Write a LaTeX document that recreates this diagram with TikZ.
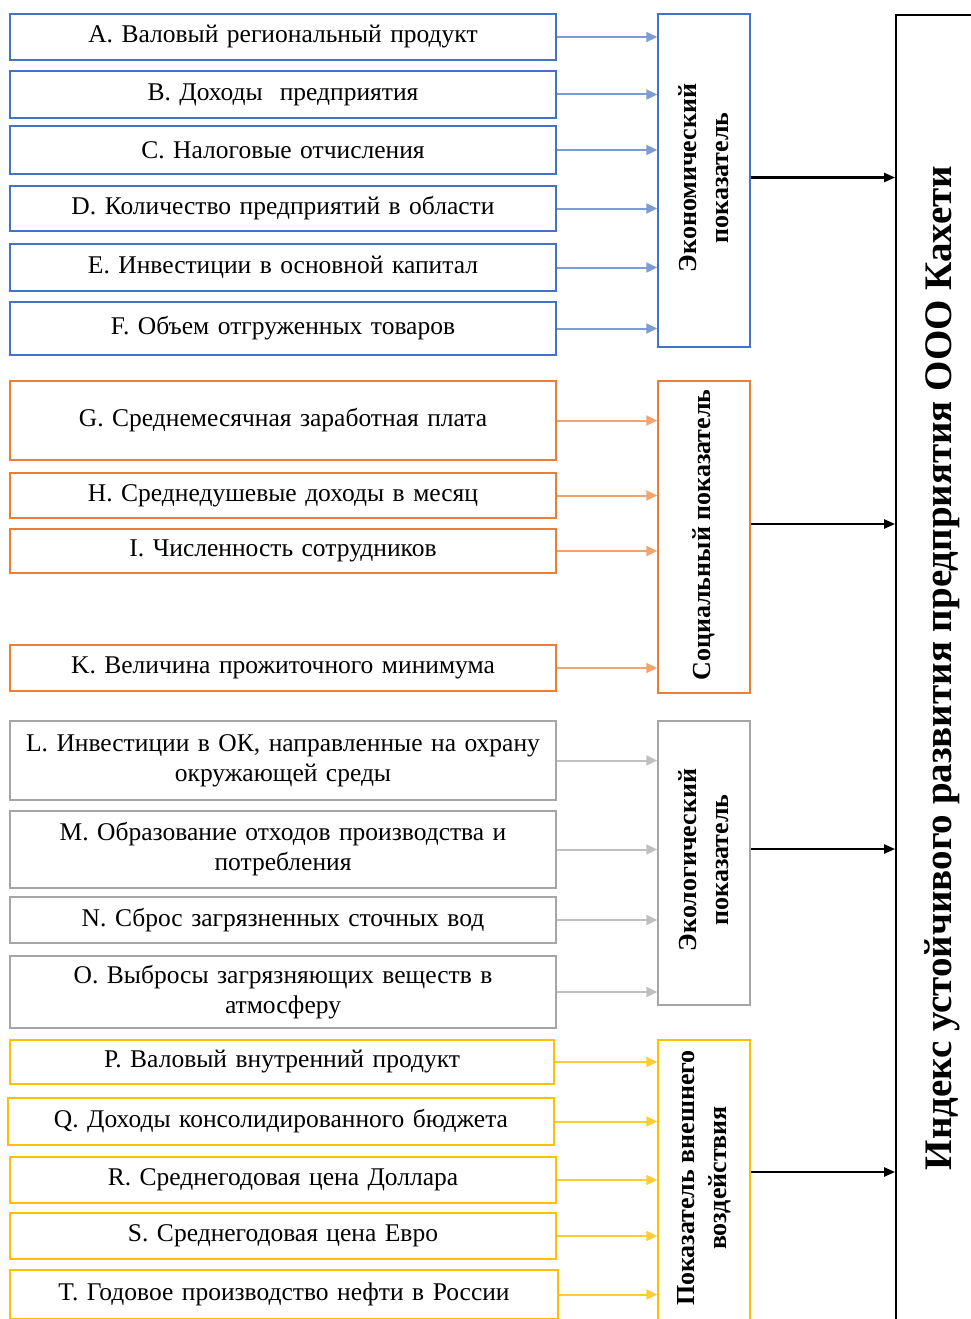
\documentclass[tikz,border=0pt]{standalone}
\usepackage{fontspec}
\setmainfont{Liberation Serif}
\usepackage{tikz}
\usetikzlibrary{arrows.meta,positioning}

\definecolor{econblue}{HTML}{4472C4}
\definecolor{socorange}{HTML}{ED7D31}
\definecolor{ecolgray}{HTML}{A5A5A5}
\definecolor{impyellow}{HTML}{FFC000}

\begin{document}
\begin{tikzpicture}[
  x=1pt,y=-1pt,
  font=\fontsize{25.5}{30}\selectfont,
  itembox/.style={draw=#1,line width=1.4pt,minimum width=546pt,text width=536pt,align=center,inner sep=2pt},
  groupbox/.style={draw=#1,line width=1.4pt,minimum width=92pt},
  grouplabel/.style={rotate=90,font=\fontsize{26}{32}\selectfont\bfseries,align=center},
  feed/.style={-{Triangle[length=11pt,width=10pt]},draw=#1,line width=2pt},
  total/.style={-{Triangle[length=11pt,width=9pt]},line width=2.4pt}
]
% frame of the page; the index box runs off the right and bottom edges
\useasboundingbox (0,0) rectangle (971,1319);
\clip (0,0) rectangle (971,1319);

% x centre of the indicator column
\def\xl{283}

% economic indicators
\node[itembox=econblue,minimum height=46pt] (a) at (\xl,37)    {A. Валовый региональный продукт};
\node[itembox=econblue,minimum height=47pt] (b) at (\xl,94.5)  {B. Доходы\ \ предприятия};
\node[itembox=econblue,minimum height=48pt] (c) at (\xl,150)   {C. Налоговые отчисления};
\node[itembox=econblue,minimum height=45pt] (d) at (\xl,208.5) {D. Количество предприятий в области};
\node[itembox=econblue,minimum height=47pt] (e) at (\xl,267.5) {E. Инвестиции в основной капитал};
\node[itembox=econblue,minimum height=53pt] (f) at (\xl,328.5) {F. Объем отгруженных товаров};

% social indicators
\node[itembox=socorange,minimum height=79pt] (g) at (\xl,420.5) {G. Среднемесячная заработная плата};
\node[itembox=socorange,minimum height=45pt] (h) at (\xl,495.5) {H. Среднедушевые доходы в месяц};
\node[itembox=socorange,minimum height=44pt] (i) at (\xl,551)   {I. Численность сотрудников};
\node[itembox=socorange,minimum height=46pt] (k) at (\xl,668)   {K. Величина прожиточного минимума};

% ecological indicators
\node[itembox=ecolgray,minimum height=79pt] (l) at (\xl,760.5) {L. Инвестиции в ОК, направленные на охрану\\окружающей среды};
\node[itembox=ecolgray,minimum height=77pt] (m) at (\xl,849.5) {M. Образование отходов производства и\\потребления};
\node[itembox=ecolgray,minimum height=46pt] (n) at (\xl,920)   {N. Сброс загрязненных сточных вод};
\node[itembox=ecolgray,minimum height=72pt] (o) at (\xl,992)   {O. Выбросы загрязняющих веществ в\\атмосферу};

% external impact indicators
\node[itembox=impyellow,minimum width=544pt,minimum height=44pt] (p) at (282,1062) {P. Валовый внутренний продукт};
\node[itembox=impyellow,minimum width=546pt,minimum height=47pt] (q) at (281,1121.5) {Q. Доходы консолидированного бюджета};
\node[itembox=impyellow,minimum height=46pt] (r) at (\xl,1180) {R. Среднегодовая цена Доллара};
\node[itembox=impyellow,minimum height=46pt] (s) at (\xl,1236) {S. Среднегодовая цена Евро};
\node[itembox=impyellow,minimum width=548pt,minimum height=49pt] (t) at (284,1294.5) {T. Годовое производство нефти в России};

% group indicators
\node[groupbox=econblue,minimum height=333pt]  (econ)   at (704,180.5) {};
\node[groupbox=socorange,minimum height=312pt] (social) at (704,537)   {};
\node[groupbox=ecolgray,minimum height=284pt]  (ecol)   at (704,863)   {};
\node[groupbox=impyellow,minimum height=300pt] (impact) at (704,1190)  {};

\node[grouplabel] (econt)   at (704,178)  {Экономический\\показатель};
\node[grouplabel] (socialt) at (704,535)  {Социальный показатель};
\node[grouplabel] (ecolt)   at (704,860)  {Экологический\\показатель};
\node[grouplabel] (impactt) at (704,1178) {Показатель внешнего\\воздействия};

% integral index
\node[draw,line width=1.8pt,minimum width=110pt,minimum height=1340pt] (index) at (951,685) {};
\node[rotate=90,font=\fontsize{39}{40}\selectfont\bfseries] (indext) at (942,668)
  {Индекс устойчивого развития предприятия ООО Кахети};

% indicator arrows
\foreach \n in {a,b,c,d,e,f} \draw[feed=econblue!70] (\n.east) -- (\n.east -| econ.west);
\foreach \n in {g,h,i,k} \draw[feed=socorange!70] (\n.east) -- (\n.east -| social.west);
\foreach \n in {l,m,n,o} \draw[feed=ecolgray!70] (\n.east) -- (\n.east -| ecol.west);
\foreach \n in {p,q,r,s,t} \draw[feed=impyellow!80] (\n.east) -- (\n.east -| impact.west);

% group arrows to the index
\draw[total] ([yshift=3pt]econ.east) -- ([yshift=3pt]econ.east -| index.west);
\draw[total] ([yshift=13pt]social.east) -- ([yshift=13pt]social.east -| index.west);
\draw[total] ([yshift=14pt]ecol.east) -- ([yshift=14pt]ecol.east -| index.west);
\draw[total] ([yshift=18pt]impact.east) -- ([yshift=18pt]impact.east -| index.west);
\end{tikzpicture}
\end{document}
